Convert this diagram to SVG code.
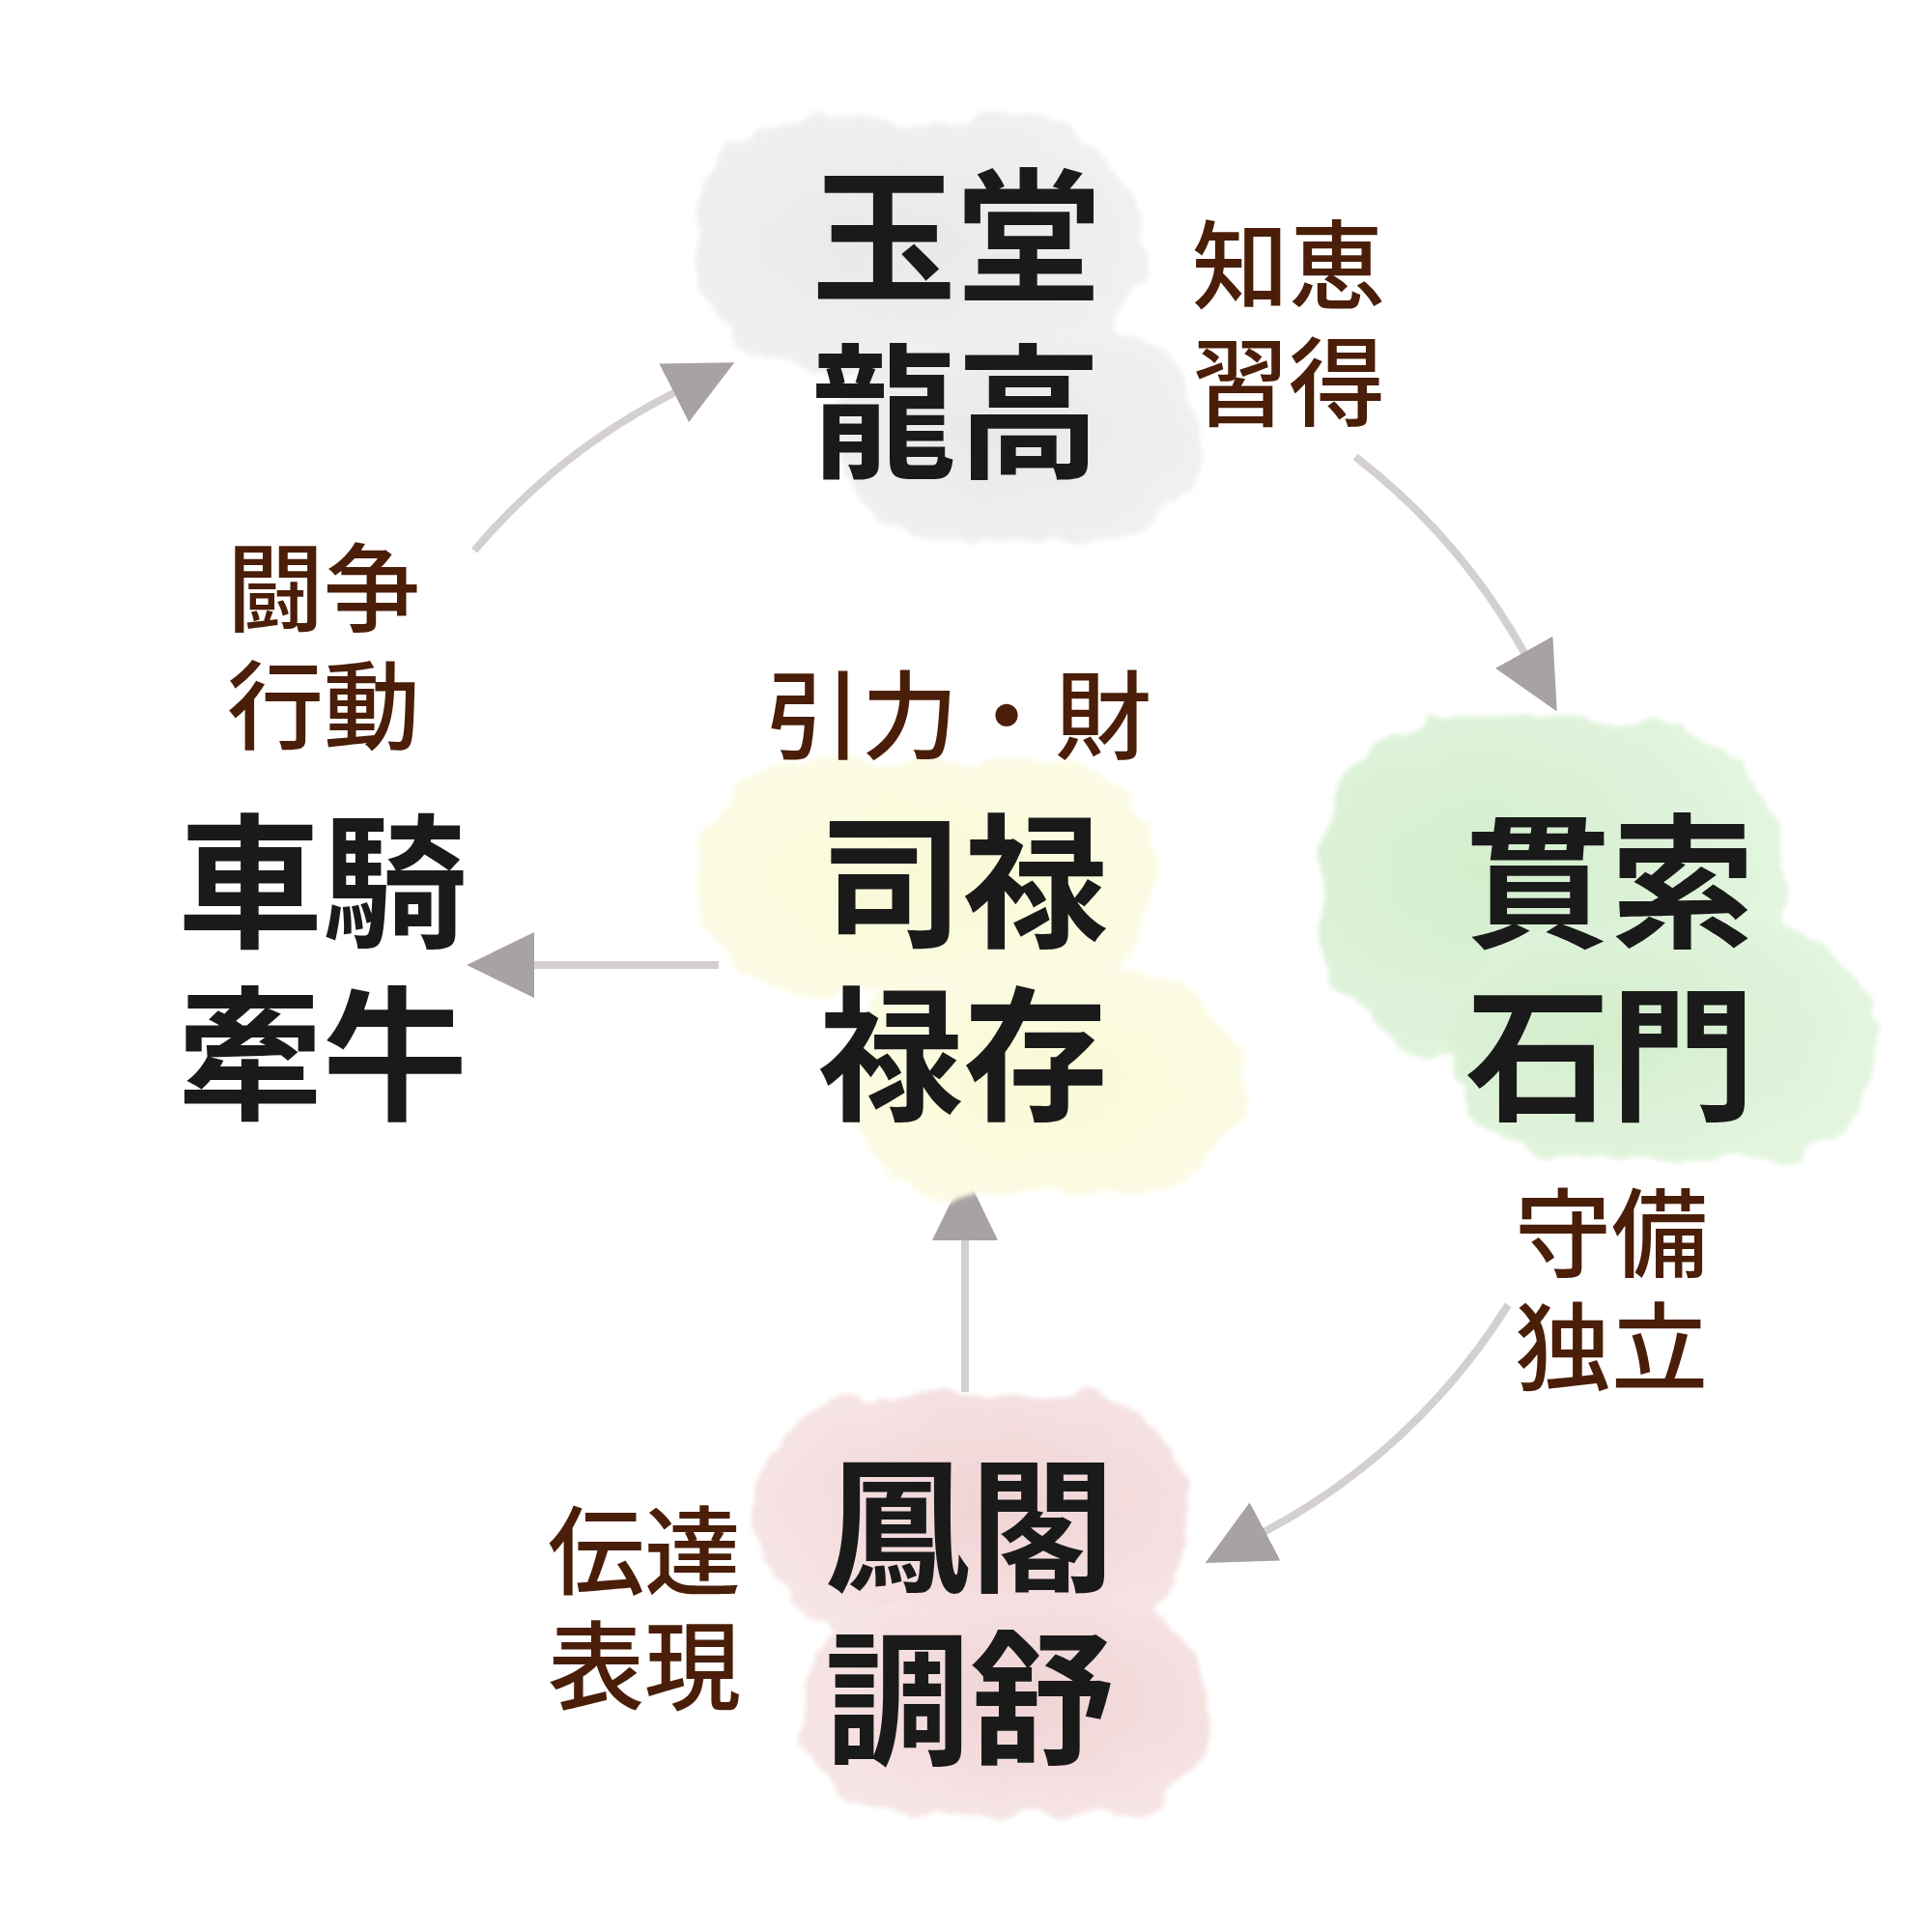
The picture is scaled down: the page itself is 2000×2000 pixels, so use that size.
<svg xmlns="http://www.w3.org/2000/svg" width="2000" height="2000" viewBox="0 0 2000 2000">
<style>
.main{font-family:"Noto Sans CJK JP","Noto Sans CJK SC",sans-serif;font-weight:700;font-size:150px;fill:#1a1a1a;text-anchor:middle}
.lab{font-family:"Noto Sans CJK JP","Noto Sans CJK SC",sans-serif;font-weight:500;font-size:100px;fill:#4a1e08;text-anchor:middle}
.conn{fill:none;stroke:#d4d0d0;stroke-width:8;stroke-linecap:butt}
</style>
<defs>
<filter id="wc" x="-20%" y="-20%" width="140%" height="140%">
<feTurbulence type="fractalNoise" baseFrequency="0.018" numOctaves="3" seed="4" result="n"/>
<feDisplacementMap in="SourceGraphic" in2="n" scale="34" xChannelSelector="R" yChannelSelector="G" result="d"/>
<feGaussianBlur in="d" stdDeviation="2.5"/>
</filter>
<radialGradient id="gGray" cx="0.45" cy="0.5" r="0.6"><stop offset="0" stop-color="#e8e8e8"/><stop offset="1" stop-color="#f1f1f1"/></radialGradient>
<radialGradient id="gGreen" cx="0.35" cy="0.45" r="0.65"><stop offset="0" stop-color="#d3eecd"/><stop offset="1" stop-color="#e3f5df"/></radialGradient>
<radialGradient id="gYellow" cx="0.5" cy="0.5" r="0.6"><stop offset="0" stop-color="#f9f9d6"/><stop offset="1" stop-color="#fcfce6"/></radialGradient>
<radialGradient id="gPink" cx="0.55" cy="0.45" r="0.6"><stop offset="0" stop-color="#f0d3d5"/><stop offset="1" stop-color="#f7e5e5"/></radialGradient>
<marker id="ah" markerUnits="userSpaceOnUse" viewBox="0 0 70 68" markerWidth="70" markerHeight="68" refX="1" refY="34" orient="auto">
<path d="M0,0 L70,34 L0,68 Z" fill="#a8a2a2"/>
</marker>
</defs>
<rect width="2000" height="2000" fill="#ffffff"/>

<g id="connectors">
<path class="conn" d="M491,570 A664,664 0 0 1 698.6,406.3" marker-end="url(#ah)"/>
<path class="conn" d="M1403.1,472.9 A664,664 0 0 1 1578.2,676.1" marker-end="url(#ah)"/>
<path class="conn" d="M1561.1,1350.9 A664,664 0 0 1 1308.7,1585.8" marker-end="url(#ah)"/>
<path class="conn" d="M999,1441 L999,1283" marker-end="url(#ah)"/>
<path class="conn" d="M744,999 L552,999" marker-end="url(#ah)"/>
</g>

<g id="node-gyokudo">
<g filter="url(#wc)" fill="url(#gGray)">
<rect x="718" y="120" width="462" height="262" rx="130"/>
<rect x="868" y="338" width="374" height="222" rx="110"/>
</g>
<text class="main"><tspan x="990" y="301">玉堂</tspan><tspan x="990" y="483">龍高</tspan></text>
</g>

<g id="node-kansaku">
<g filter="url(#wc)" fill="url(#gGreen)">
<rect x="1362" y="744" width="486" height="352" rx="160"/>
<rect x="1502" y="958" width="440" height="240" rx="115"/>
</g>
<text class="main"><tspan x="1667" y="969">貫索</tspan><tspan x="1667" y="1148">石門</tspan></text>
</g>

<g id="node-shiroku">
<g filter="url(#wc)" fill="url(#gYellow)">
<rect x="722" y="788" width="476" height="244" rx="120"/>
<rect x="876" y="1006" width="410" height="230" rx="112"/>
</g>
<text class="main"><tspan x="997" y="969">司禄</tspan><tspan x="997" y="1148">禄存</tspan></text>
</g>

<g id="node-hokaku">
<g filter="url(#wc)" fill="url(#gPink)">
<rect x="782" y="1444" width="448" height="252" rx="125"/>
<rect x="832" y="1656" width="422" height="224" rx="110"/>
</g>
<text class="main"><tspan x="1004" y="1636">鳳閣</tspan><tspan x="1004" y="1815">調舒</tspan></text>
</g>

<g id="node-shaki">
<text class="main"><tspan x="334" y="969">車騎</tspan><tspan x="334" y="1148">牽牛</tspan></text>
</g>

<g id="labels">
<g id="label-chie"><text class="lab"><tspan x="1334" y="312">知恵</tspan><tspan x="1334" y="433">習得</tspan></text></g>
<g id="label-toso"><text class="lab"><tspan x="335" y="646">闘争</tspan><tspan x="335" y="768">行動</tspan></text></g>
<g id="label-inryoku"><text class="lab" x="992" y="778">引力・財</text></g>
<g id="label-shubi"><text class="lab"><tspan x="1668" y="1314">守備</tspan><tspan x="1668" y="1432">独立</tspan></text></g>
<g id="label-dentatsu"><text class="lab"><tspan x="667" y="1643">伝達</tspan><tspan x="667" y="1762">表現</tspan></text></g>
</g>
</svg>
